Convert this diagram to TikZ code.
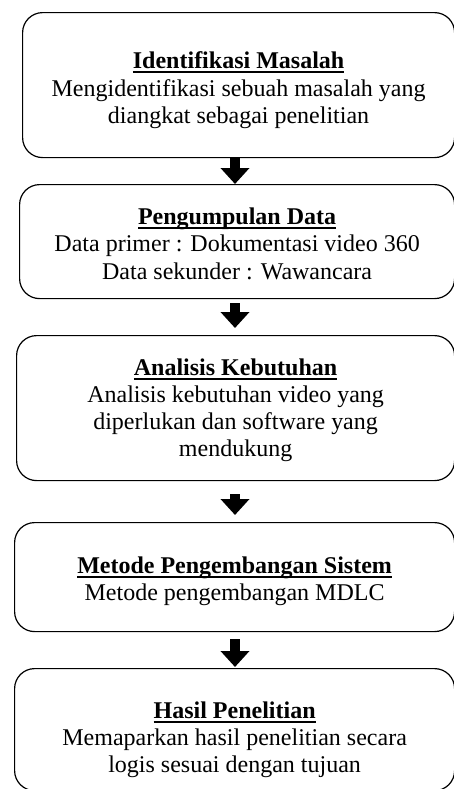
\documentclass[tikz,border=0pt]{standalone}
\usepackage{fontspec}
\setmainfont{Liberation Serif}
\usetikzlibrary{arrows.meta, positioning}

\tikzset{
  stage/.style={draw, rounded corners=10pt, line width=0.6pt, anchor=north west,
    align=center, inner sep=2pt, font=\fontsize{12}{13.6}\selectfont},
  flowarrow/.style={line width=4.6pt, -{Triangle[length=8pt, width=14pt]}}
}
% bold title with a heavy underline; the optional value pushes the text down
\newcommand{\stagetitle}[2][0pt]{%
  \rule{0pt}{\dimexpr 8.5pt+#1\relax}%
  \setbox0\hbox{\textbf{#2}}\rlap{\rule[-2.2pt]{\wd0}{1pt}}\box0}

\begin{document}
\begin{tikzpicture}[x=0.5pt, y=-0.5pt]
\useasboundingbox (0,0) rectangle (454,789);

% Research stages
\node[stage, minimum width=216pt, minimum height=72.5pt] (identifikasi) at (22,12)
  {\stagetitle[5pt]{Identifikasi Masalah}\\
   Mengidentifikasi sebuah masalah yang\\
   diangkat sebagai penelitian};
\node[stage, minimum width=217.5pt, minimum height=57pt] (pengumpulan) at (19,184)
  {\stagetitle[2pt]{Pengumpulan Data}\\
   Data primer : Dokumentasi video 360\\
   Data sekunder : Wawancara};
\node[stage, minimum width=219pt, minimum height=72.5pt] (analisis) at (16,335)
  {\stagetitle[2pt]{Analisis Kebutuhan}\\
   Analisis kebutuhan video yang\\
   diperlukan dan software yang\\
   mendukung};
\node[stage, minimum width=220pt, minimum height=54.5pt] (metode) at (14,522)
  {\stagetitle[4pt]{Metode Pengembangan Sistem}\\
   Metode pengembangan MDLC};
\node[stage, minimum width=220pt, minimum height=61pt] (hasil) at (14,668)
  {\stagetitle[10pt]{Hasil Penelitian}\\
   Memaparkan hasil penelitian secara\\
   logis sesuai dengan tujuan};

% Arrows between the stages
\coordinate (axis) at (235,0);
\foreach \from/\to/\gapa/\gapb in {identifikasi/pengumpulan/0/0,
    pengumpulan/analisis/2/3.5, analisis/metode/6.5/3.5, metode/hasil/3.5/0.5} {
  \draw[flowarrow, shorten <=\gapa pt, shorten >=\gapb pt]
    (\from.south -| axis) -- (\to.north -| axis);
}

\end{tikzpicture}
\end{document}
